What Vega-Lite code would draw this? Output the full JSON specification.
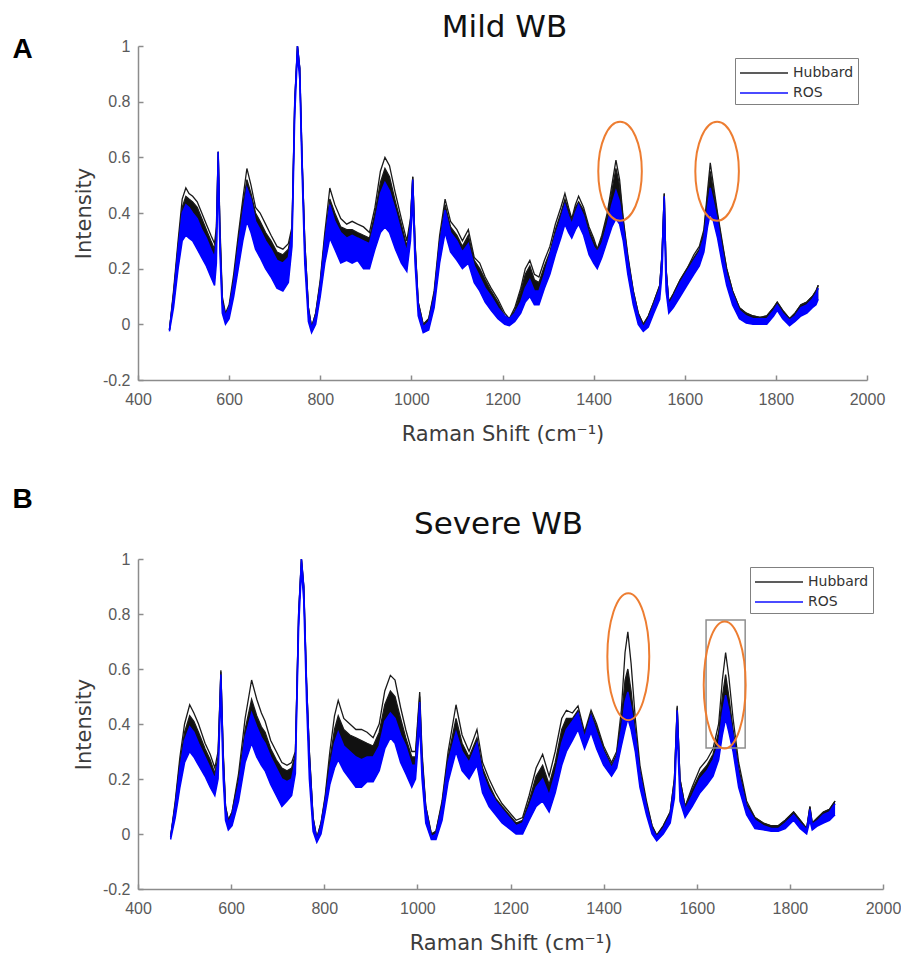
{
"$schema": "https://vega.github.io/schema/vega-lite/v6.json",
"background": "white",
"padding": {"left": 12, "top": 12, "right": 0, "bottom": 0},
"config": {
  "view": {"stroke": null},
  "axis": {"grid": false, "domainColor": "#8c8c8c", "tickColor": "#8c8c8c", "domainWidth": 1.5, "tickWidth": 1.5, "tickSize": -5, "labelFont": "Liberation Sans", "labelFontSize": 16, "labelColor": "#5a5a5a", "titleFont": "DejaVu Sans", "titleFontSize": 21, "titleFontWeight": "normal", "titleColor": "#3c3c3c", "labelFlush": false},
  "title": {"font": "DejaVu Sans", "fontSize": 31, "fontWeight": "normal", "color": "#111111"}
},
"datasets": {
"A": [
{"x":469,"h1":-0.02,"h2":-0.02,"rh":-0.02,"rl":-0.025},
{"x":478,"h1":0.12,"h2":0.11,"rh":0.1,"rl":0.06},
{"x":488,"h1":0.3,"h2":0.28,"rh":0.27,"rl":0.2},
{"x":497,"h1":0.45,"h2":0.42,"rh":0.4,"rl":0.3},
{"x":505,"h1":0.49,"h2":0.46,"rh":0.43,"rl":0.32},
{"x":512,"h1":0.47,"h2":0.45,"rh":0.42,"rl":0.31},
{"x":520,"h1":0.46,"h2":0.44,"rh":0.4,"rl":0.3},
{"x":530,"h1":0.44,"h2":0.42,"rh":0.38,"rl":0.27},
{"x":540,"h1":0.4,"h2":0.38,"rh":0.34,"rl":0.24},
{"x":550,"h1":0.36,"h2":0.34,"rh":0.31,"rl":0.21},
{"x":560,"h1":0.32,"h2":0.3,"rh":0.27,"rl":0.17},
{"x":568,"h1":0.29,"h2":0.27,"rh":0.24,"rl":0.14},
{"x":572,"h1":0.35,"h2":0.33,"rh":0.3,"rl":0.22},
{"x":576,"h1":0.62,"h2":0.62,"rh":0.62,"rl":0.55},
{"x":580,"h1":0.35,"h2":0.33,"rh":0.3,"rl":0.25},
{"x":585,"h1":0.1,"h2":0.09,"rh":0.08,"rl":0.04},
{"x":592,"h1":0.04,"h2":0.03,"rh":0.03,"rl":0.0},
{"x":600,"h1":0.07,"h2":0.06,"rh":0.06,"rl":0.02},
{"x":610,"h1":0.18,"h2":0.16,"rh":0.15,"rl":0.1},
{"x":620,"h1":0.32,"h2":0.3,"rh":0.28,"rl":0.2},
{"x":630,"h1":0.45,"h2":0.43,"rh":0.4,"rl":0.3},
{"x":639,"h1":0.56,"h2":0.52,"rh":0.49,"rl":0.37},
{"x":648,"h1":0.5,"h2":0.47,"rh":0.45,"rl":0.33},
{"x":658,"h1":0.42,"h2":0.4,"rh":0.37,"rl":0.27},
{"x":668,"h1":0.4,"h2":0.37,"rh":0.34,"rl":0.24},
{"x":680,"h1":0.36,"h2":0.33,"rh":0.3,"rl":0.2},
{"x":692,"h1":0.32,"h2":0.3,"rh":0.27,"rl":0.17},
{"x":705,"h1":0.28,"h2":0.26,"rh":0.23,"rl":0.13},
{"x":718,"h1":0.27,"h2":0.25,"rh":0.22,"rl":0.12},
{"x":730,"h1":0.29,"h2":0.27,"rh":0.24,"rl":0.15},
{"x":738,"h1":0.35,"h2":0.34,"rh":0.33,"rl":0.28},
{"x":744,"h1":0.8,"h2":0.8,"rh":0.8,"rl":0.75},
{"x":750,"h1":1.0,"h2":1.0,"rh":1.0,"rl":0.97},
{"x":755,"h1":0.92,"h2":0.92,"rh":0.92,"rl":0.88},
{"x":760,"h1":0.6,"h2":0.6,"rh":0.6,"rl":0.55},
{"x":766,"h1":0.3,"h2":0.3,"rh":0.28,"rl":0.22},
{"x":774,"h1":0.06,"h2":0.06,"rh":0.05,"rl":0.01},
{"x":781,"h1":-0.01,"h2":-0.01,"rh":-0.015,"rl":-0.03},
{"x":790,"h1":0.04,"h2":0.04,"rh":0.03,"rl":0.0},
{"x":800,"h1":0.16,"h2":0.15,"rh":0.14,"rl":0.1},
{"x":810,"h1":0.33,"h2":0.31,"rh":0.3,"rl":0.22},
{"x":821,"h1":0.49,"h2":0.45,"rh":0.43,"rl":0.31},
{"x":832,"h1":0.43,"h2":0.4,"rh":0.37,"rl":0.27},
{"x":845,"h1":0.38,"h2":0.35,"rh":0.33,"rl":0.22},
{"x":858,"h1":0.36,"h2":0.34,"rh":0.31,"rl":0.23},
{"x":870,"h1":0.37,"h2":0.34,"rh":0.32,"rl":0.22},
{"x":882,"h1":0.36,"h2":0.33,"rh":0.31,"rl":0.23},
{"x":895,"h1":0.35,"h2":0.32,"rh":0.3,"rl":0.2},
{"x":908,"h1":0.33,"h2":0.31,"rh":0.29,"rl":0.2},
{"x":920,"h1":0.42,"h2":0.4,"rh":0.37,"rl":0.27},
{"x":932,"h1":0.55,"h2":0.51,"rh":0.47,"rl":0.33},
{"x":942,"h1":0.6,"h2":0.56,"rh":0.51,"rl":0.35},
{"x":952,"h1":0.57,"h2":0.53,"rh":0.48,"rl":0.33},
{"x":965,"h1":0.47,"h2":0.44,"rh":0.41,"rl":0.27},
{"x":978,"h1":0.38,"h2":0.36,"rh":0.33,"rl":0.22},
{"x":990,"h1":0.3,"h2":0.28,"rh":0.26,"rl":0.19},
{"x":998,"h1":0.38,"h2":0.37,"rh":0.36,"rl":0.3},
{"x":1003,"h1":0.53,"h2":0.53,"rh":0.52,"rl":0.45},
{"x":1008,"h1":0.3,"h2":0.29,"rh":0.28,"rl":0.22},
{"x":1015,"h1":0.08,"h2":0.08,"rh":0.07,"rl":0.03},
{"x":1026,"h1":0.0,"h2":0.0,"rh":-0.01,"rl":-0.03},
{"x":1038,"h1":0.02,"h2":0.02,"rh":0.01,"rl":-0.02},
{"x":1050,"h1":0.12,"h2":0.11,"rh":0.1,"rl":0.06},
{"x":1062,"h1":0.32,"h2":0.3,"rh":0.29,"rl":0.22},
{"x":1074,"h1":0.45,"h2":0.43,"rh":0.41,"rl":0.33},
{"x":1086,"h1":0.37,"h2":0.35,"rh":0.33,"rl":0.26},
{"x":1100,"h1":0.34,"h2":0.32,"rh":0.3,"rl":0.23},
{"x":1112,"h1":0.3,"h2":0.28,"rh":0.26,"rl":0.2},
{"x":1125,"h1":0.34,"h2":0.32,"rh":0.29,"rl":0.22},
{"x":1138,"h1":0.24,"h2":0.23,"rh":0.21,"rl":0.15},
{"x":1150,"h1":0.22,"h2":0.2,"rh":0.17,"rl":0.12},
{"x":1162,"h1":0.17,"h2":0.16,"rh":0.13,"rl":0.08},
{"x":1175,"h1":0.13,"h2":0.12,"rh":0.1,"rl":0.05},
{"x":1190,"h1":0.09,"h2":0.08,"rh":0.06,"rl":0.02},
{"x":1205,"h1":0.04,"h2":0.03,"rh":0.03,"rl":0.0},
{"x":1215,"h1":0.02,"h2":0.02,"rh":0.02,"rl":-0.005},
{"x":1227,"h1":0.06,"h2":0.05,"rh":0.04,"rl":0.01},
{"x":1240,"h1":0.13,"h2":0.12,"rh":0.08,"rl":0.04},
{"x":1250,"h1":0.2,"h2":0.18,"rh":0.13,"rl":0.08},
{"x":1260,"h1":0.23,"h2":0.21,"rh":0.16,"rl":0.1},
{"x":1270,"h1":0.18,"h2":0.16,"rh":0.12,"rl":0.07},
{"x":1280,"h1":0.17,"h2":0.15,"rh":0.12,"rl":0.07},
{"x":1292,"h1":0.23,"h2":0.21,"rh":0.18,"rl":0.13},
{"x":1304,"h1":0.28,"h2":0.26,"rh":0.25,"rl":0.18},
{"x":1316,"h1":0.36,"h2":0.34,"rh":0.32,"rl":0.25},
{"x":1328,"h1":0.42,"h2":0.4,"rh":0.38,"rl":0.31},
{"x":1337,"h1":0.47,"h2":0.45,"rh":0.43,"rl":0.36},
{"x":1345,"h1":0.42,"h2":0.41,"rh":0.39,"rl":0.33},
{"x":1352,"h1":0.38,"h2":0.37,"rh":0.36,"rl":0.31},
{"x":1360,"h1":0.43,"h2":0.42,"rh":0.4,"rl":0.34},
{"x":1367,"h1":0.46,"h2":0.44,"rh":0.43,"rl":0.36},
{"x":1378,"h1":0.42,"h2":0.41,"rh":0.39,"rl":0.32},
{"x":1390,"h1":0.35,"h2":0.34,"rh":0.32,"rl":0.25},
{"x":1400,"h1":0.31,"h2":0.3,"rh":0.28,"rl":0.22},
{"x":1408,"h1":0.27,"h2":0.27,"rh":0.26,"rl":0.2},
{"x":1418,"h1":0.32,"h2":0.31,"rh":0.29,"rl":0.24},
{"x":1430,"h1":0.4,"h2":0.39,"rh":0.36,"rl":0.3},
{"x":1440,"h1":0.5,"h2":0.48,"rh":0.43,"rl":0.35},
{"x":1449,"h1":0.59,"h2":0.56,"rh":0.48,"rl":0.38},
{"x":1457,"h1":0.52,"h2":0.5,"rh":0.44,"rl":0.36},
{"x":1465,"h1":0.38,"h2":0.37,"rh":0.35,"rl":0.3},
{"x":1475,"h1":0.25,"h2":0.24,"rh":0.23,"rl":0.18},
{"x":1487,"h1":0.12,"h2":0.12,"rh":0.11,"rl":0.07},
{"x":1498,"h1":0.04,"h2":0.04,"rh":0.03,"rl":0.0},
{"x":1509,"h1":0.0,"h2":0.0,"rh":-0.01,"rl":-0.025},
{"x":1520,"h1":0.03,"h2":0.03,"rh":0.02,"rl":-0.01},
{"x":1532,"h1":0.08,"h2":0.08,"rh":0.07,"rl":0.04},
{"x":1545,"h1":0.14,"h2":0.14,"rh":0.13,"rl":0.09},
{"x":1550,"h1":0.25,"h2":0.25,"rh":0.24,"rl":0.18},
{"x":1555,"h1":0.47,"h2":0.47,"rh":0.46,"rl":0.4},
{"x":1559,"h1":0.2,"h2":0.2,"rh":0.19,"rl":0.12},
{"x":1565,"h1":0.08,"h2":0.08,"rh":0.07,"rl":0.04},
{"x":1575,"h1":0.11,"h2":0.11,"rh":0.1,"rl":0.06},
{"x":1590,"h1":0.16,"h2":0.16,"rh":0.15,"rl":0.1},
{"x":1605,"h1":0.2,"h2":0.2,"rh":0.19,"rl":0.14},
{"x":1620,"h1":0.25,"h2":0.24,"rh":0.23,"rl":0.18},
{"x":1632,"h1":0.28,"h2":0.27,"rh":0.26,"rl":0.21},
{"x":1642,"h1":0.34,"h2":0.33,"rh":0.31,"rl":0.26},
{"x":1650,"h1":0.48,"h2":0.46,"rh":0.42,"rl":0.35},
{"x":1656,"h1":0.58,"h2":0.55,"rh":0.49,"rl":0.4},
{"x":1663,"h1":0.5,"h2":0.48,"rh":0.44,"rl":0.37},
{"x":1672,"h1":0.4,"h2":0.39,"rh":0.37,"rl":0.31},
{"x":1682,"h1":0.3,"h2":0.29,"rh":0.27,"rl":0.22},
{"x":1692,"h1":0.2,"h2":0.2,"rh":0.18,"rl":0.14},
{"x":1705,"h1":0.12,"h2":0.12,"rh":0.11,"rl":0.07},
{"x":1720,"h1":0.06,"h2":0.06,"rh":0.05,"rl":0.02},
{"x":1735,"h1":0.04,"h2":0.04,"rh":0.03,"rl":0.005},
{"x":1750,"h1":0.03,"h2":0.03,"rh":0.02,"rl":0.0},
{"x":1765,"h1":0.025,"h2":0.025,"rh":0.02,"rl":0.0},
{"x":1780,"h1":0.03,"h2":0.03,"rh":0.02,"rl":0.0},
{"x":1795,"h1":0.06,"h2":0.06,"rh":0.05,"rl":0.03},
{"x":1803,"h1":0.08,"h2":0.08,"rh":0.07,"rl":0.05},
{"x":1815,"h1":0.05,"h2":0.05,"rh":0.04,"rl":0.02},
{"x":1830,"h1":0.02,"h2":0.02,"rh":0.015,"rl":-0.005},
{"x":1842,"h1":0.04,"h2":0.04,"rh":0.03,"rl":0.01},
{"x":1855,"h1":0.07,"h2":0.07,"rh":0.06,"rl":0.03},
{"x":1868,"h1":0.08,"h2":0.08,"rh":0.07,"rl":0.04},
{"x":1880,"h1":0.1,"h2":0.1,"rh":0.09,"rl":0.06},
{"x":1888,"h1":0.12,"h2":0.12,"rh":0.11,"rl":0.07},
{"x":1893,"h1":0.14,"h2":0.14,"rh":0.13,"rl":0.09}
],
"B": [
{"x":470,"h1":-0.01,"h2":-0.01,"rh":-0.01,"rl":-0.02},
{"x":480,"h1":0.12,"h2":0.11,"rh":0.1,"rl":0.06},
{"x":490,"h1":0.28,"h2":0.26,"rh":0.24,"rl":0.17},
{"x":500,"h1":0.4,"h2":0.37,"rh":0.34,"rl":0.26},
{"x":511,"h1":0.47,"h2":0.43,"rh":0.39,"rl":0.3},
{"x":520,"h1":0.44,"h2":0.41,"rh":0.37,"rl":0.28},
{"x":530,"h1":0.4,"h2":0.37,"rh":0.33,"rl":0.25},
{"x":544,"h1":0.33,"h2":0.31,"rh":0.28,"rl":0.21},
{"x":555,"h1":0.29,"h2":0.27,"rh":0.24,"rl":0.17},
{"x":565,"h1":0.24,"h2":0.22,"rh":0.2,"rl":0.14},
{"x":572,"h1":0.3,"h2":0.28,"rh":0.26,"rl":0.2},
{"x":578,"h1":0.595,"h2":0.59,"rh":0.58,"rl":0.52},
{"x":583,"h1":0.3,"h2":0.29,"rh":0.27,"rl":0.2},
{"x":588,"h1":0.1,"h2":0.1,"rh":0.09,"rl":0.05},
{"x":594,"h1":0.05,"h2":0.05,"rh":0.04,"rl":0.015},
{"x":602,"h1":0.08,"h2":0.08,"rh":0.07,"rl":0.03},
{"x":616,"h1":0.22,"h2":0.2,"rh":0.18,"rl":0.12},
{"x":630,"h1":0.42,"h2":0.38,"rh":0.35,"rl":0.26},
{"x":644,"h1":0.56,"h2":0.49,"rh":0.44,"rl":0.33},
{"x":655,"h1":0.49,"h2":0.43,"rh":0.39,"rl":0.28},
{"x":665,"h1":0.44,"h2":0.39,"rh":0.35,"rl":0.25},
{"x":673,"h1":0.41,"h2":0.37,"rh":0.33,"rl":0.23},
{"x":685,"h1":0.34,"h2":0.31,"rh":0.28,"rl":0.18},
{"x":697,"h1":0.3,"h2":0.27,"rh":0.24,"rl":0.14},
{"x":709,"h1":0.26,"h2":0.24,"rh":0.2,"rl":0.1},
{"x":720,"h1":0.25,"h2":0.23,"rh":0.19,"rl":0.12},
{"x":730,"h1":0.26,"h2":0.24,"rh":0.2,"rl":0.14},
{"x":738,"h1":0.3,"h2":0.29,"rh":0.27,"rl":0.22},
{"x":745,"h1":0.8,"h2":0.8,"rh":0.8,"rl":0.75},
{"x":751,"h1":1.0,"h2":1.0,"rh":1.0,"rl":0.96},
{"x":756,"h1":0.9,"h2":0.9,"rh":0.9,"rl":0.85},
{"x":762,"h1":0.55,"h2":0.55,"rh":0.55,"rl":0.48},
{"x":768,"h1":0.3,"h2":0.3,"rh":0.28,"rl":0.2},
{"x":776,"h1":0.06,"h2":0.06,"rh":0.05,"rl":0.01},
{"x":784,"h1":-0.015,"h2":-0.015,"rh":-0.02,"rl":-0.03},
{"x":793,"h1":0.04,"h2":0.04,"rh":0.03,"rl":0.0},
{"x":802,"h1":0.14,"h2":0.13,"rh":0.12,"rl":0.08},
{"x":812,"h1":0.3,"h2":0.27,"rh":0.24,"rl":0.18},
{"x":822,"h1":0.43,"h2":0.38,"rh":0.33,"rl":0.24},
{"x":830,"h1":0.486,"h2":0.43,"rh":0.37,"rl":0.27},
{"x":842,"h1":0.42,"h2":0.38,"rh":0.32,"rl":0.23},
{"x":855,"h1":0.4,"h2":0.36,"rh":0.3,"rl":0.2},
{"x":868,"h1":0.38,"h2":0.35,"rh":0.28,"rl":0.17},
{"x":880,"h1":0.38,"h2":0.34,"rh":0.27,"rl":0.17},
{"x":892,"h1":0.37,"h2":0.33,"rh":0.28,"rl":0.19},
{"x":905,"h1":0.35,"h2":0.32,"rh":0.28,"rl":0.19},
{"x":918,"h1":0.4,"h2":0.37,"rh":0.32,"rl":0.23},
{"x":930,"h1":0.52,"h2":0.47,"rh":0.41,"rl":0.31},
{"x":942,"h1":0.577,"h2":0.52,"rh":0.44,"rl":0.35},
{"x":952,"h1":0.56,"h2":0.5,"rh":0.42,"rl":0.33},
{"x":964,"h1":0.46,"h2":0.42,"rh":0.36,"rl":0.26},
{"x":975,"h1":0.38,"h2":0.35,"rh":0.32,"rl":0.22},
{"x":988,"h1":0.3,"h2":0.28,"rh":0.25,"rl":0.17},
{"x":996,"h1":0.3,"h2":0.28,"rh":0.25,"rl":0.2},
{"x":1005,"h1":0.516,"h2":0.5,"rh":0.48,"rl":0.4},
{"x":1010,"h1":0.3,"h2":0.28,"rh":0.26,"rl":0.2},
{"x":1018,"h1":0.1,"h2":0.1,"rh":0.09,"rl":0.04},
{"x":1030,"h1":0.0,"h2":0.0,"rh":-0.01,"rl":-0.02},
{"x":1040,"h1":0.01,"h2":0.01,"rh":0.0,"rl":-0.02},
{"x":1053,"h1":0.12,"h2":0.11,"rh":0.1,"rl":0.05},
{"x":1066,"h1":0.3,"h2":0.28,"rh":0.26,"rl":0.19},
{"x":1083,"h1":0.47,"h2":0.42,"rh":0.37,"rl":0.3},
{"x":1096,"h1":0.36,"h2":0.33,"rh":0.3,"rl":0.23},
{"x":1111,"h1":0.3,"h2":0.28,"rh":0.26,"rl":0.2},
{"x":1128,"h1":0.38,"h2":0.35,"rh":0.33,"rl":0.25},
{"x":1140,"h1":0.26,"h2":0.24,"rh":0.22,"rl":0.15},
{"x":1154,"h1":0.2,"h2":0.18,"rh":0.16,"rl":0.1},
{"x":1168,"h1":0.15,"h2":0.13,"rh":0.12,"rl":0.07},
{"x":1182,"h1":0.11,"h2":0.1,"rh":0.09,"rl":0.04},
{"x":1197,"h1":0.08,"h2":0.07,"rh":0.06,"rl":0.02},
{"x":1212,"h1":0.05,"h2":0.04,"rh":0.03,"rl":0.0},
{"x":1226,"h1":0.06,"h2":0.05,"rh":0.04,"rl":0.0},
{"x":1240,"h1":0.14,"h2":0.12,"rh":0.1,"rl":0.05},
{"x":1255,"h1":0.24,"h2":0.21,"rh":0.17,"rl":0.1},
{"x":1269,"h1":0.29,"h2":0.25,"rh":0.2,"rl":0.12},
{"x":1283,"h1":0.21,"h2":0.18,"rh":0.14,"rl":0.08},
{"x":1296,"h1":0.3,"h2":0.26,"rh":0.22,"rl":0.15},
{"x":1310,"h1":0.42,"h2":0.38,"rh":0.33,"rl":0.25},
{"x":1320,"h1":0.45,"h2":0.42,"rh":0.38,"rl":0.3},
{"x":1333,"h1":0.44,"h2":0.42,"rh":0.41,"rl":0.34},
{"x":1345,"h1":0.466,"h2":0.45,"rh":0.44,"rl":0.38},
{"x":1359,"h1":0.37,"h2":0.36,"rh":0.35,"rl":0.31},
{"x":1373,"h1":0.45,"h2":0.44,"rh":0.43,"rl":0.37},
{"x":1385,"h1":0.4,"h2":0.39,"rh":0.37,"rl":0.31},
{"x":1400,"h1":0.32,"h2":0.31,"rh":0.3,"rl":0.25},
{"x":1417,"h1":0.26,"h2":0.25,"rh":0.24,"rl":0.21},
{"x":1428,"h1":0.3,"h2":0.29,"rh":0.28,"rl":0.24},
{"x":1438,"h1":0.45,"h2":0.42,"rh":0.38,"rl":0.32},
{"x":1446,"h1":0.66,"h2":0.56,"rh":0.48,"rl":0.38},
{"x":1452,"h1":0.735,"h2":0.6,"rh":0.517,"rl":0.42},
{"x":1459,"h1":0.62,"h2":0.52,"rh":0.46,"rl":0.38},
{"x":1468,"h1":0.42,"h2":0.38,"rh":0.36,"rl":0.3},
{"x":1478,"h1":0.25,"h2":0.23,"rh":0.22,"rl":0.17},
{"x":1492,"h1":0.12,"h2":0.11,"rh":0.1,"rl":0.07},
{"x":1504,"h1":0.03,"h2":0.03,"rh":0.02,"rl":0.0},
{"x":1514,"h1":-0.005,"h2":-0.005,"rh":-0.01,"rl":-0.025},
{"x":1528,"h1":0.03,"h2":0.03,"rh":0.02,"rl":0.0},
{"x":1543,"h1":0.08,"h2":0.08,"rh":0.07,"rl":0.04},
{"x":1552,"h1":0.2,"h2":0.2,"rh":0.18,"rl":0.13},
{"x":1558,"h1":0.466,"h2":0.46,"rh":0.45,"rl":0.38},
{"x":1564,"h1":0.2,"h2":0.2,"rh":0.18,"rl":0.12},
{"x":1575,"h1":0.1,"h2":0.1,"rh":0.09,"rl":0.06},
{"x":1590,"h1":0.17,"h2":0.16,"rh":0.14,"rl":0.1},
{"x":1607,"h1":0.24,"h2":0.22,"rh":0.2,"rl":0.15},
{"x":1622,"h1":0.27,"h2":0.25,"rh":0.23,"rl":0.18},
{"x":1635,"h1":0.31,"h2":0.29,"rh":0.27,"rl":0.21},
{"x":1647,"h1":0.4,"h2":0.37,"rh":0.33,"rl":0.27},
{"x":1655,"h1":0.56,"h2":0.5,"rh":0.44,"rl":0.36},
{"x":1662,"h1":0.66,"h2":0.58,"rh":0.505,"rl":0.42},
{"x":1669,"h1":0.57,"h2":0.5,"rh":0.45,"rl":0.37},
{"x":1678,"h1":0.42,"h2":0.38,"rh":0.36,"rl":0.3},
{"x":1690,"h1":0.26,"h2":0.24,"rh":0.22,"rl":0.17},
{"x":1707,"h1":0.12,"h2":0.11,"rh":0.1,"rl":0.07},
{"x":1725,"h1":0.06,"h2":0.06,"rh":0.05,"rl":0.02},
{"x":1743,"h1":0.04,"h2":0.04,"rh":0.03,"rl":0.015},
{"x":1760,"h1":0.03,"h2":0.03,"rh":0.02,"rl":0.01},
{"x":1775,"h1":0.03,"h2":0.03,"rh":0.02,"rl":0.01},
{"x":1790,"h1":0.05,"h2":0.05,"rh":0.04,"rl":0.02},
{"x":1808,"h1":0.08,"h2":0.08,"rh":0.07,"rl":0.05},
{"x":1822,"h1":0.05,"h2":0.05,"rh":0.04,"rl":0.02},
{"x":1836,"h1":0.02,"h2":0.02,"rh":0.015,"rl":0.0},
{"x":1843,"h1":0.1,"h2":0.1,"rh":0.09,"rl":0.05},
{"x":1848,"h1":0.04,"h2":0.04,"rh":0.035,"rl":0.015},
{"x":1860,"h1":0.06,"h2":0.06,"rh":0.05,"rl":0.03},
{"x":1872,"h1":0.08,"h2":0.08,"rh":0.07,"rl":0.04},
{"x":1885,"h1":0.09,"h2":0.09,"rh":0.08,"rl":0.05},
{"x":1897,"h1":0.12,"h2":0.12,"rh":0.11,"rl":0.07}
],
"eA": [{"x":1458,"y":0.55},{"x":1671,"y":0.55}],
"eB": [{"x":1453,"y":0.645},{"x":1660,"y":0.542}],
"rB": [{"x":1620,"x2":1704,"y":0.313,"y2":0.778}]
},
"spacing": 42,
"resolve": {"scale": {"color": "independent"}, "legend": {"color": "independent"}},
"vconcat": [
{
 "title": {"text": "A", "anchor": "start", "frame": "bounds", "font": "Liberation Sans", "fontSize": 28, "fontWeight": "bold", "color": "#000000", "dx": -61, "dy": 52, "offset": 0},
 "resolve": {"scale": {"color": "independent"}, "legend": {"color": "independent"}},
 "vconcat": [
 {
  "title": {"text": "Mild WB", "offset": -6, "dx": 2},
  "width": 729, "height": 334,
  "data": {"name": "A"},
  "encoding": {
    "x": {"field": "x", "type": "quantitative", "scale": {"domain": [400, 2000], "nice": false, "zero": false},
          "axis": {"values": [400,600,800,1000,1200,1400,1600,1800,2000], "format": "d", "title": "Raman Shift (cm⁻¹)", "labelPadding": 16, "titlePadding": 16}}
  },
  "layer": [
    {"mark": {"type": "area", "color": "#111111"},
     "encoding": {"y": {"field": "h2", "type": "quantitative", "scale": {"domain": [-0.2, 1], "nice": false, "zero": false},
        "axis": {"title": "Intensity", "values": [-0.2,0,0.2,0.4,0.6,0.8,1], "format": "~g", "labelExpr": "replace(datum.label, '\u2212', '-')", "labelPadding": 13, "titlePadding": 8}},
       "y2": {"field": "rl"}}},
    {"mark": {"type": "line", "strokeWidth": 1.3},
     "encoding": {"y": {"field": "h1", "type": "quantitative", "scale": {"domain": [-0.2, 1], "nice": false, "zero": false},
        "axis": {"title": "Intensity", "values": [-0.2,0,0.2,0.4,0.6,0.8,1], "format": "~g", "labelExpr": "replace(datum.label, '\u2212', '-')", "labelPadding": 13, "titlePadding": 8}},
       "color": {"datum": "Hubbard", "type": "nominal", "scale": {"domain": ["Hubbard", "ROS"], "range": ["#1a1a1a", "#0000ff"]},
         "legend": {"title": null, "orient": "none", "legendX": 597, "legendY": 12, "symbolType": "M-1,0H3.8", "symbolSize": 400, "symbolStrokeWidth": 2, "symbolOpacity": 0.7, "labelOffset": 32, "labelFont": "DejaVu Sans", "labelFontSize": 14, "labelColor": "#333333", "padding": 4, "rowPadding": 2, "strokeColor": "#808080", "fillColor": "white"}}}},
    {"mark": {"type": "line", "strokeWidth": 1.3},
     "encoding": {"y": {"field": "h2", "type": "quantitative", "scale": {"domain": [-0.2, 1], "nice": false, "zero": false},
        "axis": {"title": "Intensity", "values": [-0.2,0,0.2,0.4,0.6,0.8,1], "format": "~g", "labelExpr": "replace(datum.label, '\u2212', '-')", "labelPadding": 13, "titlePadding": 8}},
       "color": {"datum": "Hubbard", "type": "nominal"}}},
    {"mark": {"type": "area", "color": "#0000ff"},
     "encoding": {"y": {"field": "rh", "type": "quantitative", "scale": {"domain": [-0.2, 1], "nice": false, "zero": false},
        "axis": {"title": "Intensity", "values": [-0.2,0,0.2,0.4,0.6,0.8,1], "format": "~g", "labelExpr": "replace(datum.label, '\u2212', '-')", "labelPadding": 13, "titlePadding": 8}},
       "y2": {"field": "rl"}}},
    {"mark": {"type": "line", "strokeWidth": 1.5},
     "encoding": {"y": {"field": "rh", "type": "quantitative", "scale": {"domain": [-0.2, 1], "nice": false, "zero": false},
        "axis": {"title": "Intensity", "values": [-0.2,0,0.2,0.4,0.6,0.8,1], "format": "~g", "labelExpr": "replace(datum.label, '\u2212', '-')", "labelPadding": 13, "titlePadding": 8}},
       "color": {"datum": "ROS", "type": "nominal"}}},
    {"mark": {"type": "line", "strokeWidth": 1.5},
     "encoding": {"y": {"field": "rl", "type": "quantitative", "scale": {"domain": [-0.2, 1], "nice": false, "zero": false},
        "axis": {"title": "Intensity", "values": [-0.2,0,0.2,0.4,0.6,0.8,1], "format": "~g", "labelExpr": "replace(datum.label, '\u2212', '-')", "labelPadding": 13, "titlePadding": 8}},
       "color": {"datum": "ROS", "type": "nominal"}}},
    {"data": {"name": "eA"},
     "mark": {"type": "point", "shape": "M0,-1C0.243,-1 0.44,-0.552 0.44,0C0.44,0.552 0.243,1 0,1C-0.243,1 -0.44,0.552 -0.44,0C-0.44,-0.552 -0.243,-1 0,-1Z", "size": 9801, "filled": false, "stroke": "#ED7D31", "strokeWidth": 2, "opacity": 1},
     "encoding": {"y": {"field": "y", "type": "quantitative", "scale": {"domain": [-0.2, 1], "nice": false, "zero": false},
        "axis": {"title": "Intensity", "values": [-0.2,0,0.2,0.4,0.6,0.8,1], "format": "~g", "labelExpr": "replace(datum.label, '\u2212', '-')", "labelPadding": 13, "titlePadding": 8}}}}
  ]
 }
 ]
},
{
 "title": {"text": "B", "anchor": "start", "frame": "bounds", "font": "Liberation Sans", "fontSize": 28, "fontWeight": "bold", "color": "#000000", "dx": -61, "dy": 5, "offset": 0},
 "resolve": {"scale": {"color": "independent"}, "legend": {"color": "independent"}},
 "vconcat": [
 {
  "title": {"text": "Severe WB", "offset": 10, "dx": -12},
  "width": 745, "height": 330,
  "data": {"name": "B"},
  "encoding": {
    "x": {"field": "x", "type": "quantitative", "scale": {"domain": [400, 2000], "nice": false, "zero": false},
          "axis": {"values": [400,600,800,1000,1200,1400,1600,1800,2000], "format": "d", "title": "Raman Shift (cm⁻¹)", "labelPadding": 16, "titlePadding": 16}}
  },
  "layer": [
    {"mark": {"type": "area", "color": "#111111"},
     "encoding": {"y": {"field": "h2", "type": "quantitative", "scale": {"domain": [-0.2, 1], "nice": false, "zero": false},
        "axis": {"title": "Intensity", "values": [-0.2,0,0.2,0.4,0.6,0.8,1], "format": "~g", "labelExpr": "replace(datum.label, '\u2212', '-')", "labelPadding": 13, "titlePadding": 8}},
       "y2": {"field": "rl"}}},
    {"mark": {"type": "line", "strokeWidth": 1.3},
     "encoding": {"y": {"field": "h1", "type": "quantitative", "scale": {"domain": [-0.2, 1], "nice": false, "zero": false},
        "axis": {"title": "Intensity", "values": [-0.2,0,0.2,0.4,0.6,0.8,1], "format": "~g", "labelExpr": "replace(datum.label, '\u2212', '-')", "labelPadding": 13, "titlePadding": 8}},
       "color": {"datum": "Hubbard", "type": "nominal", "scale": {"domain": ["Hubbard", "ROS"], "range": ["#1a1a1a", "#0000ff"]},
         "legend": {"title": null, "orient": "none", "legendX": 612, "legendY": 8, "symbolType": "M-1,0H3.8", "symbolSize": 400, "symbolStrokeWidth": 2, "symbolOpacity": 0.7, "labelOffset": 32, "labelFont": "DejaVu Sans", "labelFontSize": 14, "labelColor": "#333333", "padding": 4, "rowPadding": 2, "strokeColor": "#808080", "fillColor": "white"}}}},
    {"mark": {"type": "line", "strokeWidth": 1.3},
     "encoding": {"y": {"field": "h2", "type": "quantitative", "scale": {"domain": [-0.2, 1], "nice": false, "zero": false},
        "axis": {"title": "Intensity", "values": [-0.2,0,0.2,0.4,0.6,0.8,1], "format": "~g", "labelExpr": "replace(datum.label, '\u2212', '-')", "labelPadding": 13, "titlePadding": 8}},
       "color": {"datum": "Hubbard", "type": "nominal"}}},
    {"mark": {"type": "area", "color": "#0000ff"},
     "encoding": {"y": {"field": "rh", "type": "quantitative", "scale": {"domain": [-0.2, 1], "nice": false, "zero": false},
        "axis": {"title": "Intensity", "values": [-0.2,0,0.2,0.4,0.6,0.8,1], "format": "~g", "labelExpr": "replace(datum.label, '\u2212', '-')", "labelPadding": 13, "titlePadding": 8}},
       "y2": {"field": "rl"}}},
    {"mark": {"type": "line", "strokeWidth": 1.5},
     "encoding": {"y": {"field": "rh", "type": "quantitative", "scale": {"domain": [-0.2, 1], "nice": false, "zero": false},
        "axis": {"title": "Intensity", "values": [-0.2,0,0.2,0.4,0.6,0.8,1], "format": "~g", "labelExpr": "replace(datum.label, '\u2212', '-')", "labelPadding": 13, "titlePadding": 8}},
       "color": {"datum": "ROS", "type": "nominal"}}},
    {"mark": {"type": "line", "strokeWidth": 1.5},
     "encoding": {"y": {"field": "rl", "type": "quantitative", "scale": {"domain": [-0.2, 1], "nice": false, "zero": false},
        "axis": {"title": "Intensity", "values": [-0.2,0,0.2,0.4,0.6,0.8,1], "format": "~g", "labelExpr": "replace(datum.label, '\u2212', '-')", "labelPadding": 13, "titlePadding": 8}},
       "color": {"datum": "ROS", "type": "nominal"}}},
    {"data": {"name": "rB"},
     "mark": {"type": "rect", "filled": false, "stroke": "#8f8f8f", "strokeWidth": 1.5},
     "encoding": {"x2": {"field": "x2"}, "y": {"field": "y", "type": "quantitative", "scale": {"domain": [-0.2, 1], "nice": false, "zero": false},
        "axis": {"title": "Intensity", "values": [-0.2,0,0.2,0.4,0.6,0.8,1], "format": "~g", "labelExpr": "replace(datum.label, '\u2212', '-')", "labelPadding": 13, "titlePadding": 8}}, "y2": {"field": "y2"}}},
    {"data": {"name": "eB"},
     "mark": {"type": "point", "shape": "M0,-1C0.182,-1 0.33,-0.552 0.33,0C0.33,0.552 0.182,1 0,1C-0.182,1 -0.33,0.552 -0.33,0C-0.33,-0.552 -0.182,-1 0,-1Z", "size": 16129, "filled": false, "stroke": "#ED7D31", "strokeWidth": 2, "opacity": 1},
     "encoding": {"y": {"field": "y", "type": "quantitative", "scale": {"domain": [-0.2, 1], "nice": false, "zero": false},
        "axis": {"title": "Intensity", "values": [-0.2,0,0.2,0.4,0.6,0.8,1], "format": "~g", "labelExpr": "replace(datum.label, '\u2212', '-')", "labelPadding": 13, "titlePadding": 8}}}}
  ]
 }
 ]
}
]
}
